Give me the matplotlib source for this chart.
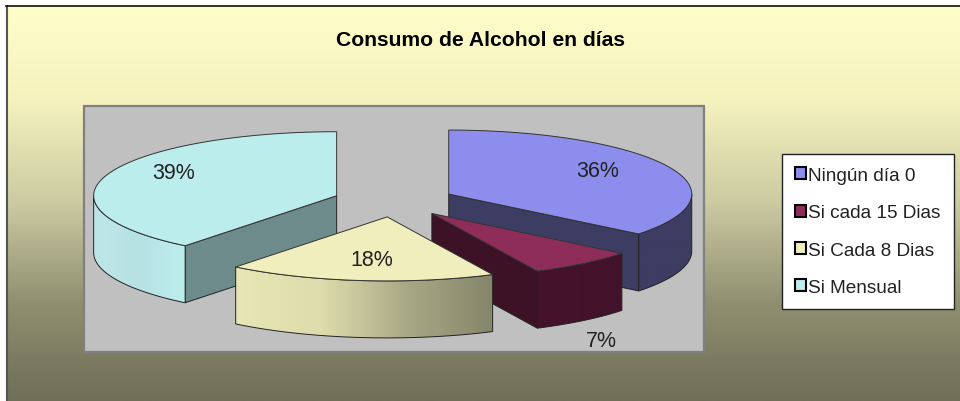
import numpy as np
import matplotlib
matplotlib.use('Agg')
import matplotlib.pyplot as plt
from matplotlib.colors import LinearSegmentedColormap
from matplotlib.patches import Patch, Polygon, Rectangle

# Data
categories = ['Ningún día 0', 'Si cada 15 Dias', 'Si Cada 8 Dias', 'Si Mensual']
counts = [10, 2, 5, 11]

top_colors = ['#8D8DEE', '#8F2D5A', '#F0EEBC', '#BCEDED']
face_colors = ['#3D3D63', '#3E1226', '#85856A', '#6E8B8B']
wall_colors = [['#3D3D63', '#3D3D63'],
               ['#45142C', '#42122A'],
               ['#E8E6B5', '#DEDCAC', '#A9A885', '#85856A'],
               ['#BEE6E8', '#B6E2E4', '#BDEEEE']]
label_xy = [(598, 172), (601, 342), (372, 261), (174, 174)]

plt.rcParams['font.family'] = ['Liberation Sans', 'DejaVu Sans']

W, H = 960, 402
fig = plt.figure(figsize=(W / 100, H / 100), dpi=100, facecolor='white')
# Axes in picture pixels, y going down
ax = fig.add_axes([0, 0, 1, 1])
ax.set_xlim(0, W)
ax.set_ylim(H, 0)
ax.axis('off')

# Chart area background
bg_cmap = LinearSegmentedColormap.from_list('bg', [
    (0.0, '#FFFDC9'), (0.24, '#F5F2BE'), (0.5, '#CBCAA1'),
    (0.75, '#908F70'), (1.0, '#6F6E57')])
ax.imshow(np.linspace(0, 1, 256)[:, None], extent=(7, W, H, 7), cmap=bg_cmap,
          aspect='auto', zorder=0)
ax.plot([6.5, 6.5], [H, 6.5], color='#555555', lw=1.5, zorder=1)
ax.plot([6, W], [6.5, 6.5], color='#111111', lw=1.2, zorder=1)

# Plot area
ax.add_patch(Rectangle((84, 107), 620, 246, fc='#C0C0C0', ec='#808080', lw=1.6, zorder=1))

# Pie geometry
cx, cy = 394, 202
rx, ry = 243, 64
explode = 0.25
depth = 57


def rim(apex, a0, a1, n=80):
    t = np.radians(np.linspace(a0, a1, n))
    return np.column_stack([apex[0] + rx * np.sin(t), apex[1] - ry * np.cos(t)])


total = sum(counts)
ends = np.cumsum(counts) / total * 360
starts = ends - np.array(counts) / total * 360
mids = (starts + ends) / 2
apexes = [(cx + explode * rx * np.sin(np.radians(m)), cy - explode * ry * np.cos(np.radians(m)))
          for m in mids]

# Back slices first
order = np.argsort([a[1] for a in apexes])
z = 2
for i in order:
    apex = apexes[i]
    a0, a1 = starts[i], ends[i]
    down = np.array([0, depth])

    # Flat cut faces that look toward the viewer
    for a, vis in ((a0, -np.sin(np.radians(a0))), (a1, np.sin(np.radians(a1)))):
        if vis > 1e-6:
            p = rim(apex, a, a, 1)[0]
            quad = [apex, p, p + down, np.array(apex) + down]
            ax.add_patch(Polygon(quad, closed=True, fc=face_colors[i], ec='#222222',
                                 lw=0.7, zorder=z))

    # Outer wall, only the part of the rim facing front
    lo = max(a0, 90)
    hi = min(a1, 270)
    if hi > lo:
        arc = rim(apex, lo, hi)
        wall = np.vstack([arc, (arc + down)[::-1]])
        poly = Polygon(wall, closed=True, fc='none', ec='#222222', lw=0.7, zorder=z + 0.2)
        ax.add_patch(poly)
        cm = LinearSegmentedColormap.from_list('wall%d' % i, wall_colors[i])
        xl, xr = wall[:, 0].min(), wall[:, 0].max()
        im = ax.imshow(np.linspace(0, 1, 256)[None, :], extent=(xl, xr, wall[:, 1].max(), wall[:, 1].min()),
                       cmap=cm, aspect='auto', zorder=z + 0.1)
        im.set_clip_path(poly)

    # Top of the slice
    top = np.vstack([[apex], rim(apex, a0, a1)])
    ax.add_patch(Polygon(top, closed=True, fc=top_colors[i], ec='#333333', lw=0.7, zorder=z + 0.3))
    z += 1

ax.set_xlim(0, W)
ax.set_ylim(H, 0)

for value, (lx, ly) in zip(counts, label_xy):
    ax.text(lx, ly, '%.0f%%' % (value / total * 100), ha='center', va='center', fontsize=15.5,
            color='#222222', zorder=20)

ax.text(480, 41, 'Consumo de Alcohol en días', ha='center', va='center', fontsize=15.2,
        fontweight='bold', color='black', zorder=20)

handles = [Patch(fc=c, ec='black', lw=1.5) for c in top_colors]
leg = ax.legend(handles, categories, loc='upper left', bbox_to_anchor=(782 / W, 1 - 155 / H),
                bbox_transform=ax.transAxes, borderaxespad=0, fontsize=13.7, handlelength=0.6,
                handleheight=0.6, handletextpad=0.1, labelspacing=1.07, borderpad=0.68,
                fancybox=False, framealpha=1, facecolor='white', edgecolor='#222222')
leg.set_zorder(20)
leg.get_frame().set_linewidth(1.0)
for t in leg.get_texts():
    t.set_color('#222222')

fig.savefig('out.png', dpi=100)
